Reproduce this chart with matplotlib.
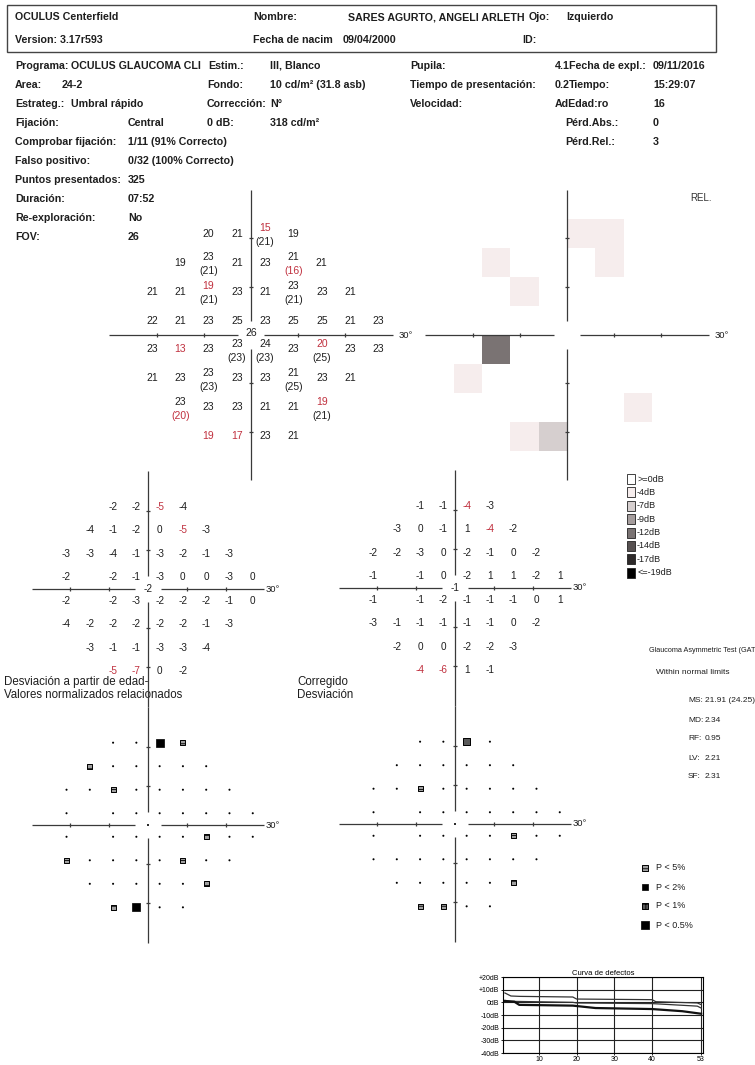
import matplotlib
matplotlib.use("Agg")
import matplotlib.pyplot as plt
from matplotlib.patches import Rectangle

plt.rcParams["font.family"] = ["Liberation Sans", "DejaVu Sans"]
plt.rcParams["hatch.linewidth"] = 0.6

W, H = 755, 1065
INK = "#1e1e1e"
RED = "#c0303e"
LINE = "#3a3a3a"

# 24-2 grid, left eye, rows from top to bottom (degrees)
ROW_Y = [21, 15, 9, 3, -3, -9, -15, -21]
ROW_X = [
    [-9, -3, 3, 9],
    [-15, -9, -3, 3, 9, 15],
    [-21, -15, -9, -3, 3, 9, 15, 21],
    [-21, -15, -9, -3, 3, 9, 15, 21, 27],
    [-21, -15, -9, -3, 3, 9, 15, 21, 27],
    [-21, -15, -9, -3, 3, 9, 15, 21],
    [-15, -9, -3, 3, 9, 15],
    [-9, -3, 3, 9],
]

threshold = [
    [20, 21, 15, 19],
    [19, 23, 21, 23, 21, 21],
    [21, 21, 19, 23, 21, 23, 23, 21],
    [22, 21, 23, 25, 23, 25, 25, 21, 23],
    [23, 13, 23, 23, 24, 23, 20, 23, 23],
    [21, 23, 23, 23, 23, 21, 23, 21],
    [23, 23, 23, 21, 21, 19],
    [19, 17, 23, 21],
]
retest = [
    [None, None, 21, None],
    [None, 21, None, None, 16, None],
    [None, None, 21, None, None, 21, None, None],
    [None] * 9,
    [None, None, None, 23, 23, None, 25, None, None],
    [None, None, 23, None, None, 25, None, None],
    [20, None, None, None, None, 21],
    [None] * 4,
]
threshold_red = [(3, 21), (-9, 9), (-15, -3), (15, -3), (15, -15), (-9, -21), (-3, -21)]
retest_red = [(9, 15), (-15, -15)]
fovea = 26

total_dev = [
    [-2, -2, -5, -4],
    [-4, -1, -2, 0, -5, -3],
    [-3, -3, -4, -1, -3, -2, -1, -3],
    [-2, None, -2, -1, -3, 0, 0, -3, 0],
    [-2, None, -2, -3, -2, -2, -2, -1, 0],
    [-4, -2, -2, -2, -2, -2, -1, -3],
    [-3, -1, -1, -3, -3, -4],
    [-5, -7, 0, -2],
]
total_red = [(3, 21), (9, 15), (-9, -21), (-3, -21)]
total_fovea = -2

pattern_dev = [
    [-1, -1, -4, -3],
    [-3, 0, -1, 1, -4, -2],
    [-2, -2, -3, 0, -2, -1, 0, -2],
    [-1, None, -1, 0, -2, 1, 1, -2, 1],
    [-1, None, -1, -2, -1, -1, -1, 0, 1],
    [-3, -1, -1, -1, -1, -1, 0, -2],
    [-2, 0, 0, -2, -2, -3],
    [-4, -6, 1, -1],
]
pattern_red = [(3, 21), (9, 15), (-9, -21), (-3, -21)]
pattern_fovea = -1

# probability codes: 0 n.s., 1 P<5%, 2 P<2%, 3 P<1%, 4 P<0.5%
total_prob = [
    [0, 0, 4, 1],
    [1, 0, 0, 0, 0, 0],
    [0, 0, 1, 0, 0, 0, 0, 0],
    [0, None, 0, 0, 0, 0, 0, 0, 0],
    [0, None, 0, 0, 0, 0, 1, 0, 0],
    [1, 0, 0, 0, 0, 1, 0, 0],
    [0, 0, 0, 0, 0, 1],
    [1, 4, 0, 0],
]
pattern_prob = [
    [0, 0, 3, 0],
    [0, 0, 0, 0, 0, 0],
    [0, 0, 1, 0, 0, 0, 0, 0],
    [0, None, 0, 0, 0, 0, 0, 0, 0],
    [0, None, 0, 0, 0, 0, 1, 0, 0],
    [0, 0, 0, 0, 0, 0, 0, 0],
    [0, 0, 0, 0, 0, 1],
    [1, 1, 0, 0],
]
prob_labels = ["P < 5%", "P < 2%", "P < 1%", "P < 0.5%"]

# greyscale (REL.) map
blind_spot_dev = {(-15, -3): -12}
grey_steps = [-4, -7, -9, -12, -14, -17, -19]
grey_labels = [">=0dB", "-4dB", "-7dB", "-9dB", "-12dB", "-14dB", "-17dB", "<=-19dB"]
grey_colors = ["#ffffff", "#f6eded", "#d6cfcf", "#a59d9d", "#7a7373", "#575151", "#2e2a2a", "#000000"]

stats_labels = ["MS:", "MD:", "RF:", "LV:", "SF:"]
stats_values = ["21.91 (24.25)", "2.34", "0.95", "2.21", "2.31"]

# defect curve (rank vs dB)
upper_x = [1, 2.6, 5, 19, 20, 40, 41, 52, 53]
upper_y = [7.4, 5, 4.7, 4.2, 2.6, 2.1, 0.5, -0.5, -1.8]
median_x = [1, 2.6, 19, 20, 40, 52, 53]
median_y = [1.6, 0.8, 0, -0.5, -1, -3, -4.5]
patient_x = [1, 3.5, 4.8, 19, 25, 40, 48, 53]
patient_y = [1, 0.5, -2, -2.6, -4.5, -5.3, -7, -9]
curve_yticks = [20, 10, 0, -10, -20, -30, -40]
curve_ylabels = ["+20dB", "+10dB", "0dB", "-10dB", "-20dB", "-30dB", "-40dB"]
curve_xticks = [10, 20, 30, 40, 53]


def cells(rows):
    for y, xs, vals in zip(ROW_Y, ROW_X, rows):
        for x, v in zip(xs, vals):
            if v is not None:
                yield x, y, v


fig = plt.figure(figsize=(W / 100, H / 100), dpi=100)
ax0 = fig.add_axes([0, 0, 1, 1])
ax0.set_xlim(0, W)
ax0.set_ylim(H, 0)
ax0.axis("off")


def px_axes(left, top, width, height):
    return fig.add_axes([left / W, 1 - (top + height) / H, width / W, height / H])


def field_axes(cx, cy, sx, sy, half=34):
    ax = px_axes(cx - half * sx, cy - half * sy, 2 * half * sx, 2 * half * sy)
    ax.set_xlim(-half, half)
    ax.set_ylim(-half, half)
    ax.axis("off")
    return ax


def draw_cross(ax, gap, label_dx, fs=6.8):
    kw = dict(color=LINE, lw=0.9, solid_capstyle="butt", zorder=3)
    ax.plot([-30, -gap], [0, 0], **kw)
    ax.plot([gap, 30], [0, 0], **kw)
    ax.plot([0, 0], [gap, 30], **kw)
    ax.plot([0, 0], [-30, -gap], **kw)
    ticks = [-20, -10, 10, 20]
    ax.plot(ticks, [0] * 4, ls="", marker="|", ms=3.2, mew=0.9, color=LINE, zorder=3)
    ax.plot([0] * 4, ticks, ls="", marker="_", ms=3.2, mew=0.9, color=LINE, zorder=3)
    ax.text(30 + label_dx, 0, "30°", ha="left", va="center", fontsize=fs, color=INK)


# ---- header ----
ax0.add_patch(Rectangle((7, 5), 709, 47, fill=False, ec="#444444", lw=1.0))
header = [
    (15, 17, "OCULUS Centerfield"), (15, 40, "Version: 3.17r593"),
    (253, 17, "Nombre:"), (348, 17, "SARES AGURTO, ANGELI ARLETH"), (529, 17, "Ojo:"),
    (566, 17, "Izquierdo"), (253, 40, "Fecha de nacim"), (343, 40, "09/04/2000"),
    (522, 40, "ID:"),
    (15, 66, "Programa:"), (71, 66, "OCULUS GLAUCOMA CLI"), (208, 66, "Estim.:"), (270, 66, "III, Blanco"),
    (15, 85, "Area:"), (62, 85, "24-2"), (207, 85, "Fondo:"), (270, 85, "10 cd/m² (31.8 asb)"),
    (15, 104, "Estrateg.:"), (71, 104, "Umbral rápido"), (207, 104, "Corrección:"), (270, 104, "N°"),
    (15, 123, "Fijación:"), (128, 123, "Central"), (207, 123, "0 dB:"), (270, 123, "318 cd/m²"),
    (15, 142, "Comprobar fijación:"), (128, 142, "1/11 (91% Correcto)"),
    (15, 161, "Falso positivo:"), (128, 161, "0/32 (100% Correcto)"),
    (15, 180, "Puntos presentados:"), (128, 180, "325"),
    (15, 199, "Duración:"), (128, 199, "07:52"),
    (15, 218, "Re-exploración:"), (128, 218, "No"),
    (15, 237, "FOV:"), (128, 237, "26"),
    (410, 66, "Pupila:"), (555, 66, "4.1"), (569, 66, "Fecha de expl.:"), (653, 66, "09/11/2016"),
    (410, 85, "Tiempo de presentación:"), (555, 85, "0.2"), (569, 85, "Tiempo:"), (653, 85, "15:29:07"),
    (410, 104, "Velocidad:"), (555, 104, "AdEdad:ro"), (653, 104, "16"),
    (565, 123, "Pérd.Abs.:"), (653, 123, "0"),
    (565, 142, "Pérd.Rel.:"), (653, 142, "3"),
]
for x, y, s in header:
    ax0.text(x, y, s, ha="left", va="center", fontsize=7.7, fontweight="bold", color=INK)

ax0.text(690, 198, "REL.", ha="left", va="center", fontsize=7, color="#333333")

# ---- threshold values ----
ax_thr = field_axes(251, 335, 4.72, 4.83)
draw_cross(ax_thr, 2.8, 1.2)
retest_map = {(x, y): v for x, y, v in cells(retest)}
for x, y, v in cells(threshold):
    dy = 1.1 if (x, y) in retest_map else 0
    col = RED if (x, y) in threshold_red else INK
    ax_thr.text(x, y + dy, str(v), ha="center", va="center", fontsize=7.5, color=col)
for (x, y), v in retest_map.items():
    col = RED if (x, y) in retest_red else INK
    ax_thr.text(x, y - 1.7, f"({v})", ha="center", va="center", fontsize=7.5, color=col)
ax_thr.text(0, 0.5, str(fovea), ha="center", va="center", fontsize=7.5, color=INK)

# ---- greyscale ----
ax_grey = field_axes(567, 335, 4.72, 4.83)
draw_cross(ax_grey, 2.8, 1.2)
grey_vals = {(x, y): v for x, y, v in cells(total_dev)}
grey_vals.update(blind_spot_dev)
for (x, y), v in grey_vals.items():
    level = sum(v <= t for t in grey_steps)
    if level:
        ax_grey.add_patch(Rectangle((x - 3, y - 3), 6, 6, fc=grey_colors[level], ec="none", zorder=1))

# ---- deviation grids ----
for (cx, cy), dev, red, fov in [((148, 589), total_dev, total_red, total_fovea),
                                 ((455, 588), pattern_dev, pattern_red, pattern_fovea)]:
    ax = field_axes(cx, cy, 3.88, 3.92)
    draw_cross(ax, 3.3, 0.3)
    for x, y, v in cells(dev):
        col = RED if (x, y) in red else INK
        ax.text(x, y, str(v), ha="center", va="center", fontsize=7.2, color=col)
    ax.text(0, 0, str(fov), ha="center", va="center", fontsize=7.2, color=INK)

ax0.text(4, 682, "Desviación a partir de edad-", ha="left", va="center", fontsize=8.3, color=INK)
ax0.text(4, 695, "Valores normalizados relacionados", ha="left", va="center", fontsize=8.3, color=INK)
ax0.text(297, 682, "Corregido", ha="left", va="center", fontsize=8.3, color=INK)
ax0.text(297, 695, "Desviación", ha="left", va="center", fontsize=8.3, color=INK)

# ---- probability plots ----
PROB_STYLE = {
    0: dict(marker="o", s=2.2, facecolor="k", edgecolor="none"),
    1: dict(marker="s", s=13, facecolor="#a0a0a0", edgecolor="k", linewidths=0.7, hatch="----"),
    2: dict(marker="s", s=14, facecolor="k", edgecolor="k", linewidths=0.5),
    3: dict(marker="s", s=22, facecolor="#5a5a5a", edgecolor="k", linewidths=0.7, hatch="++"),
    4: dict(marker="s", s=30, facecolor="k", edgecolor="k", linewidths=0.5),
}


def draw_prob(ax, xs, ys, codes):
    for code, style in PROB_STYLE.items():
        pts = [(x, y) for x, y, c in zip(xs, ys, codes) if c == code]
        if pts:
            ax.scatter([p[0] for p in pts], [p[1] for p in pts], zorder=4, **style)


for (cx, cy), prob in [((148, 825), total_prob), ((455, 824), pattern_prob)]:
    ax = field_axes(cx, cy, 3.88, 3.92)
    draw_cross(ax, 3.3, 0.3)
    pts = list(cells(prob))
    draw_prob(ax, [p[0] for p in pts] + [0], [p[1] for p in pts] + [0], [p[2] for p in pts] + [0])

# probability legend
leg_y = [868, 887, 906, 925]
draw_prob(ax0, [645] * 4, leg_y, [1, 2, 3, 4])
for y, s in zip(leg_y, prob_labels):
    ax0.text(656, y, s, ha="left", va="center", fontsize=6.5, color=INK)

# greyscale legend
for i, (lab, col) in enumerate(zip(grey_labels, grey_colors)):
    y = 479 + i * 13.4
    ax0.add_patch(Rectangle((627, y - 5), 8, 10, fc=col, ec="#222222", lw=0.6))
    ax0.text(637, y, lab, ha="left", va="center", fontsize=6.5, color=INK)

# GAT and indices
ax0.text(649, 651, "Glaucoma Asymmetric Test (GAT", ha="left", va="center", fontsize=5.25, color=INK)
ax0.text(656, 672, "Within normal limits", ha="left", va="center", fontsize=6.0, color=INK)
for i, (lab, val) in enumerate(zip(stats_labels, stats_values)):
    y = 701 + i * 19
    ax0.text(688, y, lab, ha="left", va="center", fontsize=6.0, color=INK)
    ax0.text(705, y, val, ha="left", va="center", fontsize=6.0, color=INK)

# ---- defect curve ----
axc = px_axes(503, 977, 200, 76)
axc.set_xlim(0.5, 53.5)
axc.set_ylim(-40, 20)
axc.set_yticks(curve_yticks)
axc.set_yticklabels(curve_ylabels)
axc.set_xticks(curve_xticks)
axc.tick_params(labelsize=5, length=1.5, width=0.6, pad=1)
axc.grid(True, color="#222222", lw=0.8)
for sp in axc.spines.values():
    sp.set_linewidth(0.8)
axc.plot(upper_x, upper_y, color="#333333", lw=0.9)
axc.plot(median_x, median_y, color="#333333", lw=0.9)
axc.plot(patient_x, patient_y, color="#111111", lw=1.6)
axc.set_title("Curva de defectos", fontsize=5.5, pad=1.5)

fig.savefig("out.png", dpi=100)
